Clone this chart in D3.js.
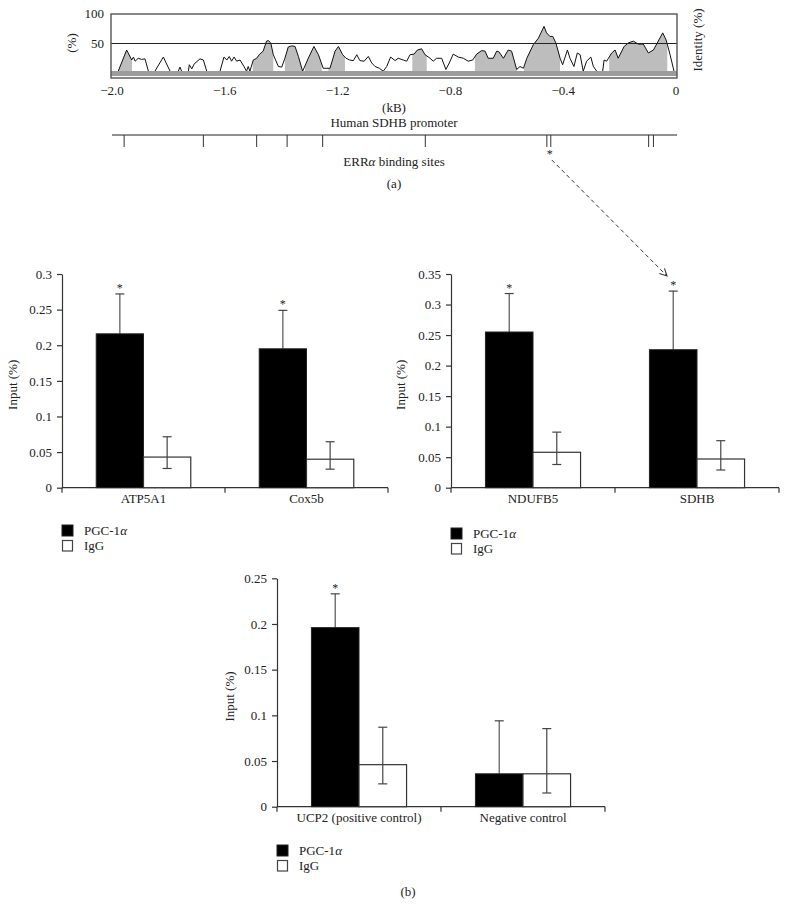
<!DOCTYPE html>
<html>
<head>
<meta charset="utf-8">
<script src="https://cdnjs.cloudflare.com/ajax/libs/d3/7.8.5/d3.min.js"></script>
<style>
body { margin: 0; background: #fff; }
svg text { font-family: "Liberation Serif", "Times New Roman", serif; fill: #222; }
</style>
</head>
<body>
<svg id="fig" width="787" height="905"></svg>
<script>
// ---- panel (a): identity profile of the SDHB promoter (kB, % identity), null = gap
var identityKb = [
  -1.978, -1.948, -1.930, -1.924, -1.918, -1.907, -1.895, -1.883, -1.871, -1.860,
  -1.848, -1.818, -1.794, -1.780,
  -1.765, -1.759, -1.753, -1.740,
  -1.729, -1.726, -1.717, -1.709, -1.688, -1.676, -1.664, -1.640,
  -1.617, -1.603, -1.593, -1.584, -1.576, -1.567, -1.558, -1.546, -1.532, -1.523, -1.517, -1.511,
  -1.499, -1.487, -1.478, -1.464, -1.452, -1.446, -1.437, -1.428, -1.410, -1.398, -1.387, -1.375,
  -1.363, -1.351, -1.339, -1.324, -1.304, -1.284, -1.268, -1.251, -1.227, -1.209, -1.197, -1.182,
  -1.170, -1.157, -1.144, -1.132, -1.121, -1.106, -1.091, -1.079, -1.067, -1.052, -1.038, -1.026,
  -1.012, -0.996, -0.985, -0.967, -0.955, -0.943, -0.929, -0.917, -0.902, -0.890, -0.872, -0.861,
  -0.849, -0.831, -0.816, -0.804, -0.790, -0.772, -0.754, -0.737, -0.721, -0.707, -0.689, -0.677,
  -0.666, -0.648, -0.636, -0.628, -0.612, -0.595, -0.583, -0.565, -0.553, -0.541, -0.529, -0.506,
  -0.488, -0.476, -0.468, -0.459, -0.447, -0.437, -0.426, -0.411, -0.402, -0.385, -0.376, -0.362,
  -0.350, -0.340, -0.329, -0.317, -0.302, -0.293, -0.281, -0.270,
  -0.260, -0.255, -0.246, -0.228, -0.216, -0.205, -0.184, -0.169, -0.151, -0.134, -0.116, -0.098,
  -0.080, -0.063, -0.047, -0.035, -0.021, -0.007
];
var identityPct = [
  3, 39, 22, 27, 20, 25, 23, 24, 3, null,
  3, 27, 3, null,
  3, 10, 3, null,
  3, 14, 7, 15, 24, 22, 3, null,
  3, 27, 22, 28, 20, 27, 20, 22, 11, 3, 11, 3,
  22, 25, 31, 37, 54, 55, 51, 31, 11, 10, 25, 44,
  46, 45, 28, 3, 25, 45, 31, 8, 8, 37, 45, 31,
  25, 22, 21, 31, 21, 20, 28, 17, 11, 8, 3, 11,
  27, 21, 25, 22, 20, 31, 32, 39, 41, 31, 25, 20,
  25, 25, 6, 17, 32, 27, 25, 20, 22, 32, 38, 37,
  25, 25, 37, 36, 25, 39, 37, 6, 11, 8, 25, 48,
  59, 71, 79, 68, 62, 62, 51, 25, 14, 39, 25, 11,
  34, 31, 3, 20, 27, 11, 3, null,
  3, 22, 20, 34, 39, 25, 45, 51, 54, 49, 49, 34,
  39, 54, 68, 56, 31, 3
];
// conserved (shaded) stretches
var conservedFrom = [-1.979, -1.501, -1.387, -1.316, -1.233, -0.935, -0.713, -0.539, -0.237];
var conservedTo   = [-1.929, -1.428, -1.324, -1.256, -1.174, -0.884, -0.565, -0.411, -0.031];
// ERRa binding sites along the promoter (kB)
var bindingSites = [-1.957, -1.676, -1.487, -1.379, -1.253, -0.889, -0.458, -0.444, -0.097, -0.080];
var kbTicks = [-2, -1.6, -1.2, -0.8, -0.4, 0];
var kbLabels = ["\u22122.0", "\u22121.6", "\u22121.2", "\u22120.8", "\u22120.4", "0"];
var identityTicks = [50, 100];

// ---- panel (b): ChIP, % of input
var genesA = ["ATP5A1", "Cox5b"];
var pgcA = [0.216, 0.195];
var pgcHiA = [0.272, 0.249];
var sigA = [true, true];
var iggA = [0.043, 0.040];
var iggHiA = [0.0715, 0.0645];
var iggLoA = [0.027, 0.026];
var ticksA = [0, 0.05, 0.1, 0.15, 0.2, 0.25, 0.3];

var genesB = ["NDUFB5", "SDHB"];
var pgcB = [0.255, 0.226];
var pgcHiB = [0.318, 0.322];
var sigB = [true, true];
var iggB = [0.058, 0.047];
var iggHiB = [0.091, 0.077];
var iggLoB = [0.038, 0.029];
var ticksB = [0, 0.05, 0.1, 0.15, 0.2, 0.25, 0.3, 0.35];

var genesC = ["UCP2 (positive control)", "Negative control"];
var pgcC = [0.196, 0.036];
var pgcHiC = [0.233, 0.094];
var sigC = [true, false];
var iggC = [0.046, 0.036];
var iggHiC = [0.087, 0.0855];
var iggLoC = [0.025, 0.015];
var ticksC = [0, 0.05, 0.1, 0.15, 0.2, 0.25];

var svg = d3.select("#fig");
var axisColor = "#333";
var fs = 13;

// ================= panel (a) =================
var xKb = d3.scaleLinear().domain([-2, 0]).range([112, 676]);
var yId = d3.scaleLinear().domain([0, 100]).range([73, 14]);

var prof = identityKb.map(function(k, i) { return [k, identityPct[i]]; });

var clip = svg.append("defs").append("clipPath").attr("id", "conserved");
conservedFrom.forEach(function(f, i) {
  clip.append("rect")
    .attr("x", xKb(f))
    .attr("y", 0)
    .attr("width", xKb(conservedTo[i]) - xKb(f))
    .attr("height", 100);
});

var area = d3.area()
  .defined(function(d) { return d[1] != null; })
  .x(function(d) { return xKb(d[0]); })
  .y0(yId(0))
  .y1(function(d) { return yId(d[1]); });

var line = d3.line()
  .defined(function(d) { return d[1] != null; })
  .x(function(d) { return xKb(d[0]); })
  .y(function(d) { return yId(d[1]); });

svg.append("path")
  .attr("d", area(prof))
  .attr("fill", "#bdbdbd")
  .attr("clip-path", "url(#conserved)");

svg.append("path")
  .attr("d", line(prof))
  .attr("fill", "none")
  .attr("stroke", "#111")
  .attr("stroke-width", 1);

// 50% line
svg.append("line")
  .attr("x1", 111).attr("x2", 677)
  .attr("y1", yId(50)).attr("y2", yId(50))
  .attr("stroke", "#222").attr("stroke-width", 1.2);

// annotation band at bottom
svg.append("rect")
  .attr("x", 111).attr("y", 71)
  .attr("width", 566).attr("height", 5)
  .attr("fill", "#9c9c9c");

svg.append("rect")
  .attr("x", 111).attr("y", 14)
  .attr("width", 566).attr("height", 64)
  .attr("fill", "none")
  .attr("stroke", "#555").attr("stroke-width", 1.4);

svg.selectAll(".idtick")
  .data(identityTicks)
  .enter().append("text")
  .attr("x", 104)
  .attr("y", function(d) { return yId(d) + 4; })
  .attr("text-anchor", "end")
  .attr("font-size", fs)
  .text(function(d) { return d; });

svg.selectAll(".kbtick")
  .data(kbTicks)
  .enter().append("text")
  .attr("x", function(d) { return xKb(d); })
  .attr("y", 95)
  .attr("text-anchor", "middle")
  .attr("font-size", fs)
  .text(function(d, i) { return kbLabels[i]; });

svg.append("text")
  .attr("transform", "translate(76,43) rotate(-90)")
  .attr("text-anchor", "middle")
  .attr("font-size", fs)
  .text("(%)");

svg.append("text")
  .attr("transform", "translate(702,40) rotate(-90)")
  .attr("text-anchor", "middle")
  .attr("font-size", fs)
  .text("Identity (%)");

svg.append("text").attr("x", 394).attr("y", 112)
  .attr("text-anchor", "middle").attr("font-size", fs).text("(kB)");
svg.append("text").attr("x", 394).attr("y", 127)
  .attr("text-anchor", "middle").attr("font-size", fs).text("Human SDHB promoter");

// promoter line + binding sites
svg.append("line")
  .attr("x1", 112).attr("x2", 677).attr("y1", 135).attr("y2", 135)
  .attr("stroke", "#222").attr("stroke-width", 1.2);

svg.selectAll(".site")
  .data(bindingSites)
  .enter().append("line")
  .attr("x1", function(d) { return xKb(d); })
  .attr("x2", function(d) { return xKb(d); })
  .attr("y1", 135).attr("y2", 147)
  .attr("stroke", "#333").attr("stroke-width", 1);

var errText = svg.append("text").attr("x", 394).attr("y", 166)
  .attr("text-anchor", "middle").attr("font-size", fs);
errText.append("tspan").text("ERR");
errText.append("tspan").attr("font-style", "italic").text("\u03b1");
errText.append("tspan").text(" binding sites");

svg.append("text").attr("x", 394).attr("y", 188)
  .attr("text-anchor", "middle").attr("font-size", fs).text("(a)");

// asterisk on the site tested by ChIP and dashed arrow to SDHB bar
var siteX = (xKb(bindingSites[6]) + xKb(bindingSites[7])) / 2;
svg.append("text").attr("x", siteX + 1).attr("y", 158)
  .attr("text-anchor", "middle").attr("font-size", 12).text("*");

svg.select("defs").append("marker")
  .attr("id", "arrow")
  .attr("viewBox", "0 0 10 10")
  .attr("refX", 9).attr("refY", 5)
  .attr("markerWidth", 9).attr("markerHeight", 9)
  .attr("markerUnits", "userSpaceOnUse")
  .attr("orient", "auto")
  .append("path")
  .attr("d", "M1,1 L9,5 L1,9")
  .attr("fill", "none")
  .attr("stroke", "#333")
  .attr("stroke-width", 1.2);

svg.append("line")
  .attr("x1", siteX + 3).attr("y1", 160)
  .attr("x2", 667).attr("y2", 276)
  .attr("stroke", "#333").attr("stroke-width", 1)
  .attr("stroke-dasharray", "4,3")
  .attr("marker-end", "url(#arrow)");

// ================= panel (b) =================
function fmt(d) { return d === 0 ? "0" : String(+d.toFixed(2)); }

function barPanel(cfg) {
  var g = svg.append("g");
  var x = d3.scaleBand().domain(cfg.genes).range([cfg.left, cfg.right]);
  var y = d3.scaleLinear().domain([0, d3.max(cfg.ticks)]).range([cfg.bottom, cfg.top]);
  var bw = x.bandwidth() * 0.29;
  var cap = 4.5;

  var yAxis = g.append("g")
    .attr("transform", "translate(" + cfg.left + ",0)")
    .call(d3.axisLeft(y).tickValues(cfg.ticks).tickFormat(fmt).tickSize(5).tickSizeOuter(0).tickPadding(5));
  yAxis.selectAll("path, line").attr("stroke", axisColor).attr("stroke-width", 1.2);
  yAxis.selectAll("text").attr("font-size", fs).attr("fill", "#222")
    .attr("font-family", "Liberation Serif, serif");

  // x axis with ticks between groups
  g.append("line")
    .attr("x1", cfg.left).attr("x2", cfg.right)
    .attr("y1", y(0)).attr("y2", y(0))
    .attr("stroke", axisColor).attr("stroke-width", 1.2);
  var bounds = [cfg.left].concat(cfg.genes.map(function(d) { return x(d) + x.bandwidth(); }));
  g.selectAll(".xt")
    .data(bounds)
    .enter().append("line")
    .attr("x1", function(d) { return d; }).attr("x2", function(d) { return d; })
    .attr("y1", y(0)).attr("y2", y(0) + 5)
    .attr("stroke", axisColor).attr("stroke-width", 1.2);

  g.selectAll(".xl")
    .data(cfg.genes)
    .enter().append("text")
    .attr("x", function(d) { return x(d) + x.bandwidth() / 2; })
    .attr("y", y(0) + 15)
    .attr("text-anchor", "middle")
    .attr("font-size", fs)
    .text(function(d) { return d; });

  var cx = function(i) { return x(cfg.genes[i]) + x.bandwidth() / 2; };

  // PGC-1a error (upward only) and IgG error
  cfg.genes.forEach(function(d, i) {
    var px = cx(i) - bw / 2;
    g.append("line").attr("x1", px).attr("x2", px)
      .attr("y1", y(cfg.pgc[i])).attr("y2", y(cfg.pgcHi[i]))
      .attr("stroke", "#555").attr("stroke-width", 1.2);
    g.append("line").attr("x1", px - cap).attr("x2", px + cap)
      .attr("y1", y(cfg.pgcHi[i])).attr("y2", y(cfg.pgcHi[i]))
      .attr("stroke", "#444").attr("stroke-width", 1.2);
    if (cfg.sig[i]) {
      g.append("text").attr("x", px).attr("y", y(cfg.pgcHi[i]) - 2)
        .attr("text-anchor", "middle").attr("font-size", 12).text("*");
    }
  });

  g.selectAll(".pgc")
    .data(cfg.pgc)
    .enter().append("rect")
    .attr("x", function(d, i) { return cx(i) - bw; })
    .attr("y", function(d) { return y(d); })
    .attr("width", bw)
    .attr("height", function(d) { return y(0) - y(d); })
    .attr("fill", "#000")
    .attr("stroke", "#222");

  g.selectAll(".igg")
    .data(cfg.igg)
    .enter().append("rect")
    .attr("x", function(d, i) { return cx(i); })
    .attr("y", function(d) { return y(d); })
    .attr("width", bw)
    .attr("height", function(d) { return y(0) - y(d); })
    .attr("fill", "#fff")
    .attr("stroke", "#333")
    .attr("stroke-width", 1.2);

  cfg.genes.forEach(function(d, i) {
    var px = cx(i) + bw / 2;
    g.append("line").attr("x1", px).attr("x2", px)
      .attr("y1", y(cfg.iggLo[i])).attr("y2", y(cfg.iggHi[i]))
      .attr("stroke", "#444").attr("stroke-width", 1.2);
    [cfg.iggLo[i], cfg.iggHi[i]].forEach(function(v) {
      g.append("line").attr("x1", px - cap).attr("x2", px + cap)
        .attr("y1", y(v)).attr("y2", y(v))
        .attr("stroke", "#444").attr("stroke-width", 1.2);
    });
  });

  g.append("text")
    .attr("transform", "translate(" + cfg.labelX + "," + ((cfg.top + cfg.bottom) / 2 + 4) + ") rotate(-90)")
    .attr("text-anchor", "middle")
    .attr("font-size", fs)
    .text("Input (%)");

  // legend
  var lg = g.append("g").attr("transform", "translate(" + cfg.left + "," + cfg.legendY + ")");
  lg.append("rect").attr("x", 0).attr("y", 0).attr("width", 11).attr("height", 11)
    .attr("fill", "#000").attr("stroke", "#222");
  lg.append("rect").attr("x", 0.5).attr("y", 15.5).attr("width", 10).attr("height", 10.5)
    .attr("fill", "#fff").attr("stroke", "#444").attr("stroke-width", 1.2);
  var t1 = lg.append("text").attr("x", 22).attr("y", 10).attr("font-size", fs);
  t1.append("tspan").text("PGC-1");
  t1.append("tspan").attr("font-style", "italic").text("\u03b1");
  lg.append("text").attr("x", 22).attr("y", 25).attr("font-size", fs).text("IgG");
}

barPanel({ genes: genesA, pgc: pgcA, pgcHi: pgcHiA, sig: sigA, igg: iggA, iggHi: iggHiA, iggLo: iggLoA,
  ticks: ticksA, left: 62, right: 388, top: 274, bottom: 487.7, labelX: 17, legendY: 525 });

barPanel({ genes: genesB, pgc: pgcB, pgcHi: pgcHiB, sig: sigB, igg: iggB, iggHi: iggHiB, iggLo: iggLoB,
  ticks: ticksB, left: 451, right: 779, top: 274, bottom: 487.7, labelX: 405, legendY: 528 });

barPanel({ genes: genesC, pgc: pgcC, pgcHi: pgcHiC, sig: sigC, igg: iggC, iggHi: iggHiC, iggLo: iggLoC,
  ticks: ticksC, left: 277, right: 605, top: 578.3, bottom: 806.7, labelX: 234, legendY: 845 });

svg.append("text").attr("x", 408).attr("y", 896)
  .attr("text-anchor", "middle").attr("font-size", fs).text("(b)");
</script>
</body>
</html>
